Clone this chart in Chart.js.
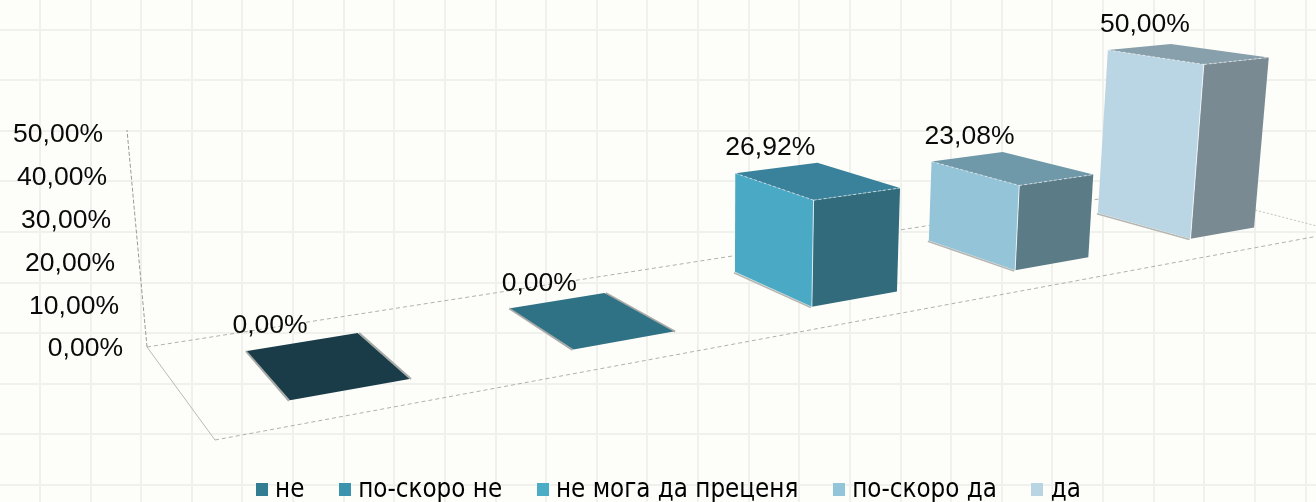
<!DOCTYPE html>
<html><head><meta charset="utf-8">
<style>html,body{margin:0;padding:0;background:#fdfdf9;overflow:hidden}#w{width:1316px;height:502px;position:relative}canvas{display:block}</style>
<script src="https://cdn.jsdelivr.net/npm/chart.js@4"></script></head>
<body><div id="w"><canvas id="c" width="1316" height="502"></canvas></div>
<script>
const categories=['не','по-скоро не','не мога да преценя','по-скоро да','да'];
const values=[0,0,26.92,23.08,50];
const valueTicks=[0,10,20,30,40,50];
const legendColors=['#337d92','#3b93ad','#4bacc6','#92c5d9','#b9d5e4'];
const sideColors=['#1a3c48','#307285','#4aaac6','#93c4d7','#bad5e3'];
const topColors=['#1a3c48','#307285','#3a829b','#6f98a8','#88a0ac'];
const frontColors=['#1a3c48','#307285','#316b7c','#5b7b87','#7a8a92'];
const labelShift=[23,29,35,38,37];

/* floor outline and value axis of the 3-D frame */
const FLOOR={A:[147,347],B:[215,440],C:[1170,188],D:[1340,232]};
const AXIS_TOP=[127,130];
/* perspective matrix of the row of boxes: u across the categories, v from back to front of a box, z = value / axis maximum */
const PX=[1577,17.1,158.9],PY=[-82.98,13.4,365.3],PW=[0.4419,-0.093,1],VP=[713,6489],KZ=-0.03493;
function proj(u,v,z){const w=PW[0]*u+PW[1]*v+KZ*z+PW[2];
  return [(PX[0]*u+PX[1]*v+KZ*VP[0]*z+PX[2])/w,(PY[0]*u+PY[1]*v+KZ*VP[1]*z+PY[2])/w];}
function poly(ctx,pts,fill){ctx.beginPath();pts.forEach((p,i)=>i?ctx.lineTo(p[0],p[1]):ctx.moveTo(p[0],p[1]));ctx.closePath();ctx.fillStyle=fill;ctx.fill();}
function seg(ctx,p,q,col,lw,dash){ctx.beginPath();ctx.setLineDash(dash||[]);ctx.strokeStyle=col;ctx.lineWidth=lw;ctx.moveTo(p[0],p[1]);ctx.lineTo(q[0],q[1]);ctx.stroke();ctx.setLineDash([]);}

function boxCorners(chart,el){
  const xs=chart.scales.x,ys=chart.scales.y;
  const W=xs.right-xs.left,H=ys.bottom-ys.top;
  const u0=(el.x-el.width/2-xs.left)/W,u1=(el.x+el.width/2-xs.left)/W;
  const z=(el.base-el.y)/H;
  return {bl:proj(u0,0,0),br:proj(u1,0,0),fl:proj(u0,1,0),fr:proj(u1,1,0),
          tbl:proj(u0,0,z),tbr:proj(u1,0,z),tfl:proj(u0,1,z),tfr:proj(u1,1,z),z};
}
class Box3DController extends Chart.BarController{
  draw(){
    const ctx=this._ctx,chart=this.chart;
    this.getMeta().data.forEach((el,i)=>{
      const p=boxCorners(chart,el);
      ctx.save();
      if(p.z<0.001){
        seg(ctx,[p.bl[0]-1,p.bl[1]],[p.fl[0]-1,p.fl[1]+.5],'#a9a9a6',2);
        seg(ctx,[p.br[0]+1.5,p.br[1]],[p.fr[0]+1.5,p.fr[1]],'#a9a9a6',2);
        poly(ctx,[p.bl,p.br,p.fr,p.fl],topColors[i]);
      }else{
        seg(ctx,[p.bl[0]-1,p.bl[1]+.8],[p.fl[0]-1,p.fl[1]+.8],'#b5b5b2',1.6);
        poly(ctx,[p.fl,p.fr,p.tfr,p.tfl],frontColors[i]);
        poly(ctx,[p.bl,p.fl,p.tfl,p.tbl],sideColors[i]);
        poly(ctx,[p.tbl,p.tbr,p.tfr,p.tfl],topColors[i]);
        seg(ctx,p.fl,p.tfl,'rgba(255,255,255,.75)',1);
        seg(ctx,p.tbl,p.tfl,'rgba(255,255,255,.6)',1,[3,2]);
        seg(ctx,p.tfl,p.tfr,'rgba(255,255,255,.6)',1,[3,2]);
      }
      ctx.restore();
    });
  }
}
Box3DController.id='box3d';
Box3DController.defaults=Chart.BarController.defaults;
Box3DController.overrides=Chart.BarController.overrides;
Chart.register(Box3DController);

const scene={
  id:'scene',
  afterLayout(chart){
    const lg=chart.legend;
    lg.top=437;lg.bottom=lg.top+lg.height;lg.left+=13;lg.right+=13;
  },
  beforeDatasetsDraw(chart){
    const ctx=chart.ctx,{A,B,C,D}=FLOOR;
    ctx.save();
    seg(ctx,A,AXIS_TOP,'#9a9a97',1,[4,2]);
    seg(ctx,A,C,'#b0b0ad',1,[4,3]);
    seg(ctx,B,D,'#b0b0ad',1,[4,3]);
    seg(ctx,A,B,'#b8b8b5',1);
    seg(ctx,C,D,'#c0c0bd',1,[2,2]);
    ctx.restore();
  },
  afterDatasetsDraw(chart){
    const ctx=chart.ctx,ys=chart.scales.y,H=ys.bottom-ys.top,{A}=FLOOR;
    ctx.save();
    ctx.fillStyle='#0a0a0a';ctx.font='26.5px "Liberation Sans", Arial, sans-serif';ctx.textBaseline='middle';
    const fmt=v=>v.toFixed(2).replace('.',',')+'%';
    ctx.textAlign='right';
    valueTicks.forEach(v=>{
      const t=(ys.bottom-ys.getPixelForValue(v))/H;
      const x=A[0]+(AXIS_TOP[0]-A[0])*t,y=A[1]+(AXIS_TOP[1]-A[1])*t;
      ctx.fillText(fmt(v),x-24,y+t*3+2);
    });
    ctx.textAlign='center';
    chart.getDatasetMeta(0).data.forEach((el,i)=>{
      const q=boxCorners(chart,el);
      ctx.fillText(fmt(values[i]),q.tbl[0]+labelShift[i],q.tbl[1]-25);
    });
    ctx.restore();
  }
};
const swatch=col=>{const s=document.createElement('canvas');s.width=12;s.height=13;const x=s.getContext('2d');x.fillStyle=col;x.fillRect(0,0,12,13);return s;};
const gridX=[],gridY=[];
for(let i=0;i<26;i++)gridX.push(40+i*50.62);
for(let i=0;i<10;i++)gridY.push(29.5+i*50.6);
const bgAxis=(axis,position,max,list,rev)=>({type:'linear',axis,position,min:0,max,reverse:rev,offset:false,
  afterBuildTicks:s=>{s.ticks=list.map(value=>({value}));},
  ticks:{display:false},border:{display:false},grid:{color:'#f0f0ec',lineWidth:2,drawTicks:false,offset:false}});
new Chart(document.getElementById('c'),{
  type:'box3d',
  data:{labels:categories,datasets:[{data:values,backgroundColor:legendColors,barPercentage:.4,categoryPercentage:1}]},
  options:{
    responsive:false,animation:false,devicePixelRatio:1,
    layout:{padding:{top:0,left:0,right:0,bottom:-105.7}},
    scales:{
      x:{type:'category',display:false,grid:{display:false}},
      y:{type:'linear',display:false,min:0,max:50,grid:{display:false}},
      gx:bgAxis('x','top',1316,gridX,false),
      gy:bgAxis('y','left',502,gridY,true)
    },
    plugins:{
      tooltip:{enabled:false},
      legend:{position:'bottom',labels:{
        color:'#0a0a0a',font:{family:'"DejaVu Sans Condensed","DejaVu Sans"',size:25.7},padding:40,boxWidth:1,boxHeight:13,usePointStyle:true,
        generateLabels:()=>categories.map((t,i)=>({text:t,fillStyle:legendColors[i],strokeStyle:legendColors[i],lineWidth:0,pointStyle:swatch(legendColors[i]),datasetIndex:0,index:i}))
      }}
    }
  },
  plugins:[scene]
});
document.getElementById('c').style.background='#fdfdf9';
</script></body></html>
